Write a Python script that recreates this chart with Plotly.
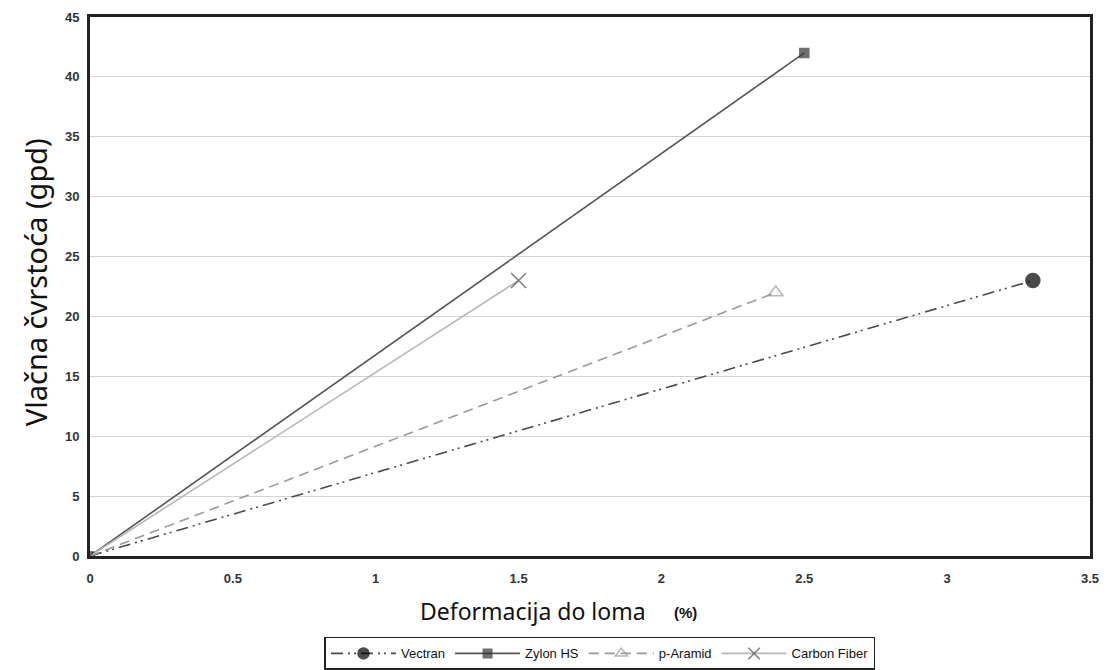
import plotly.graph_objects as go

series_names = ["Vectran", "Zylon HS", "p-Aramid", "Carbon Fiber"]
strain_x = [[0, 3.3], [0, 2.5], [0, 2.4], [0, 1.5]]
tenacity_y = [[0, 23], [0, 42], [0, 22], [0, 23]]

x_ticks = [0, 0.5, 1, 1.5, 2, 2.5, 3, 3.5]
x_tick_labels = ["0", "0.5", "1", "1.5", "2", "2.5", "3", "3.5"]
y_ticks = [0, 5, 10, 15, 20, 25, 30, 35, 40, 45]

x_title = "Deformacija do loma"
x_unit = "(%)"
y_title = "Vlačna čvrstoća (gpd)"

line_colors = ["#4a4a4a", "#555555", "#9a9a9a", "#b8b8b8"]
line_dashes = ["12px,5px,2px,4px,2px,5px", "solid", "10px,6px", "solid"]
marker_symbols = ["circle", "square", "triangle-up-open", "x-thin-open"]
marker_colors = ["#000000", "#333333", "#999999", "#444444"]
marker_sizes = [14, 9, 13, 15]

fig = go.Figure()
for i, name in enumerate(series_names):
    fig.add_trace(go.Scatter(
        x=strain_x[i], y=tenacity_y[i], name=name,
        mode="lines+markers",
        line=dict(color=line_colors[i], width=1.6, dash=line_dashes[i]),
        marker=dict(symbol=marker_symbols[i], color=marker_colors[i],
                    size=[8, marker_sizes[i]],
                    line=dict(width=1.5, color=marker_colors[i])),
    ))

fig.update_layout(
    width=1109, height=670,
    margin=dict(l=90, r=19, t=17, b=114),
    plot_bgcolor="white", paper_bgcolor="white",
    font=dict(family="Liberation Sans, Arial", color="#222222"),
    showlegend=True,
    legend=dict(orientation="h", x=0.541, xref="container", xanchor="center",
                y=0.0493, yref="container", yanchor="top",
                bordercolor="#222222", borderwidth=1.5, bgcolor="white",
                font=dict(size=13, family="Liberation Sans", color="#111111"),
                itemwidth=65, tracegroupgap=0),
    annotations=[
        dict(text=x_title, xref="paper", yref="paper", x=0.443, y=-0.102,
             xanchor="center", yanchor="middle", showarrow=False,
             font=dict(size=23, family="Noto Sans", color="#111111")),
        dict(text="<b>" + x_unit + "</b>", xref="paper", yref="paper", x=0.595, y=-0.105,
             xanchor="center", yanchor="middle", showarrow=False,
             font=dict(size=15, family="Liberation Sans", color="#111111")),
        dict(text=y_title, xref="paper", yref="paper", x=0, y=0.508, xshift=-55,
             xanchor="center", yanchor="middle", showarrow=False, textangle=-90,
             font=dict(size=29, family="Noto Sans", color="#111111")),
    ],
)
fig.update_xaxes(
    range=[0, 3.5], tickvals=x_ticks, ticktext=x_tick_labels,
    showgrid=False, zeroline=False, automargin=False,
    showline=True, linecolor="#222222", linewidth=3, mirror=True,
    ticks="", ticklabelstandoff=8,
    tickfont=dict(size=13, family="Liberation Sans", color="#333333", weight="bold"),
)
fig.update_yaxes(
    range=[0, 45], tickvals=y_ticks, automargin=False,
    showgrid=True, gridcolor="#d2d2d2", gridwidth=1, zeroline=False,
    showline=True, linecolor="#222222", linewidth=3, mirror=True,
    ticks="", ticklabelstandoff=5,
    tickfont=dict(size=13, family="Liberation Sans", color="#333333", weight="bold"),
)

fig.write_html("out.html", config={"displayModeBar": False},
               post_script="document.body.style.margin='0';")
